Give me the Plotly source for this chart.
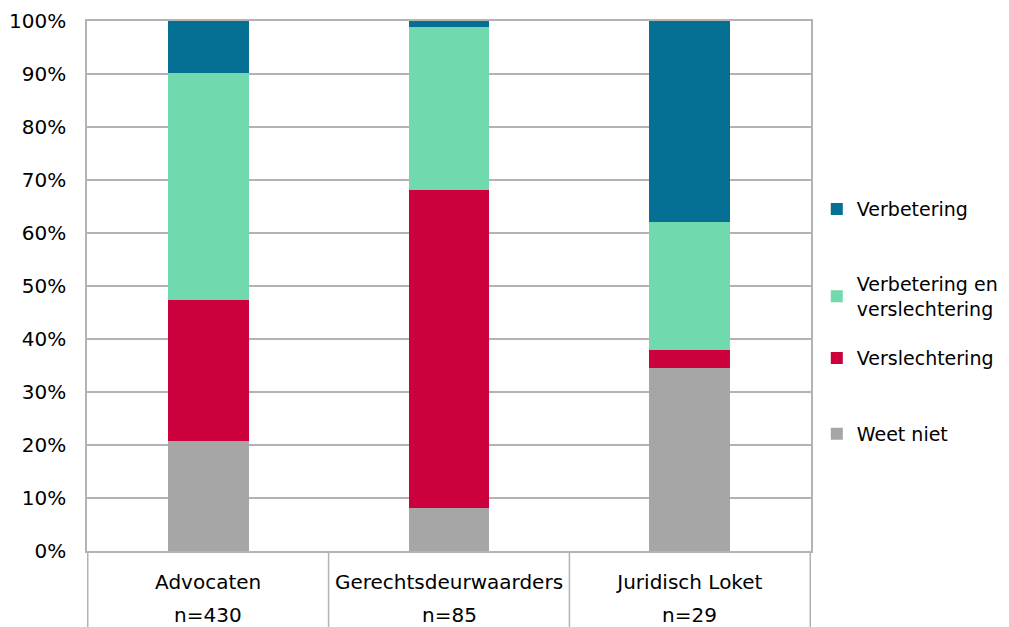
import plotly.graph_objects as go

categories = ["Advocaten", "Gerechtsdeurwaarders", "Juridisch Loket"]
sample_sizes = ["n=430", "n=85", "n=29"]

weet_niet = [20.7, 8.2, 34.5]
verslechtering = [26.7, 60.0, 3.4]
verbetering_en_verslechtering = [42.8, 30.6, 24.2]
verbetering = [9.8, 1.2, 37.9]

series_names = ["Weet niet", "Verslechtering", "Verbetering en<br>verslechtering", "Verbetering"]
series_values = [weet_niet, verslechtering, verbetering_en_verslechtering, verbetering]
series_colors = ["#a6a6a6", "#cc003d", "#70d9ad", "#066f94"]

y_ticks = [0, 10, 20, 30, 40, 50, 60, 70, 80, 90, 100]
y_ticklabels = [f"{v}%" for v in y_ticks]

FONT = "DejaVu Sans"
FS = 20
LFS = 19
GRID = "#b3b3b3"

legend_ids = ["legend4", "legend3", "legend2", "legend"]
legend_y = [0.221, 0.364, 0.480, 0.645]

fig = go.Figure()
for name, vals, col, lid in zip(series_names, series_values, series_colors, legend_ids):
    fig.add_trace(go.Bar(
        x=categories, y=vals, name=name,
        marker=dict(color=col, line=dict(width=0)),
        legend=lid,
    ))

# category separators extending below plot
for xpos in [-0.5, 0.5, 1.5, 2.5]:
    fig.add_shape(type="line", xref="x", yref="paper", x0=xpos, x1=xpos,
                  y0=0, y1=-0.2, line=dict(color=GRID, width=1.5), layer="below")

for cat, n in zip(categories, sample_sizes):
    fig.add_annotation(x=cat, xref="x", yref="paper", y=-0.12, text=n,
                       showarrow=False, yanchor="middle",
                       font=dict(family=FONT, size=FS, color="#000"))

legend_common = dict(x=1.008, xanchor="left", yanchor="middle",
                     font=dict(family=FONT, size=LFS, color="#000"),
                     bgcolor="rgba(0,0,0,0)")
layout_legends = {}
for lid, ly in zip(legend_ids, legend_y):
    layout_legends[lid] = dict(y=ly, **legend_common)

# page body has an 8px default margin; size the figure to fit the 1009x627 window
fig.update_layout(
    width=1001, height=619,
    margin=dict(l=79, r=198, t=13, b=76, autoexpand=False),
    barmode="stack",
    bargap=0.665,
    plot_bgcolor="white", paper_bgcolor="white",
    font=dict(family=FONT, size=FS, color="#000"),
    showlegend=True,
    xaxis=dict(showgrid=False, showline=True, linecolor=GRID, linewidth=1.5, mirror=True,
               ticks="", ticklabelstandoff=12, automargin=False,
               tickfont=dict(family=FONT, size=FS)),
    yaxis=dict(range=[0, 100], tickvals=y_ticks, ticktext=y_ticklabels,
               showgrid=True, gridcolor=GRID, gridwidth=1.5,
               showline=True, linecolor=GRID, linewidth=1.5, mirror=True,
               zeroline=False, ticks="", ticklabelstandoff=15, automargin=False,
               tickfont=dict(family=FONT, size=FS)),
    **layout_legends,
)

fig.write_html("out.html")
